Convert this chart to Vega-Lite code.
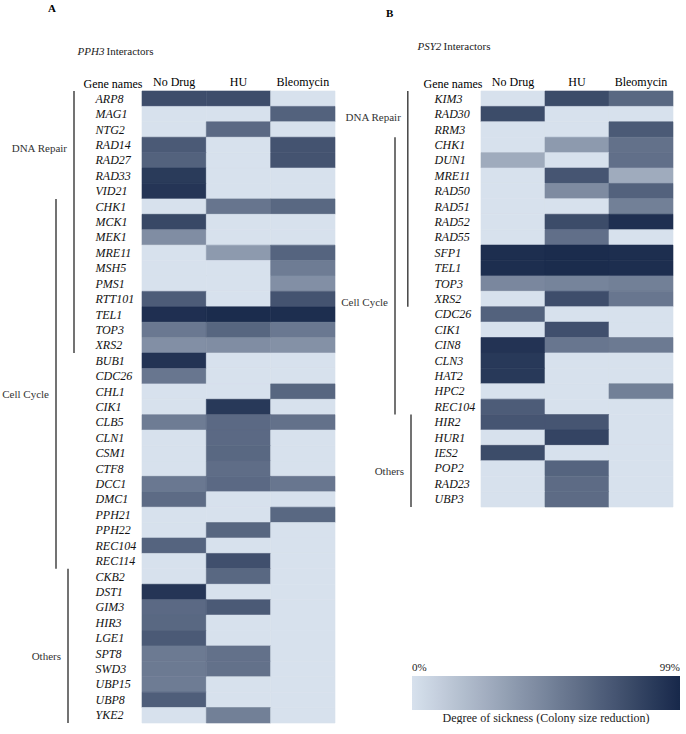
{
  "$schema": "https://vega.github.io/schema/vega-lite/v6.json",
  "padding": {"top": 3, "left": 0, "right": 0, "bottom": 0},
  "background": "white",
  "config": {
    "view": {"stroke": null},
    "font": "Liberation Serif",
    "axis": {"domain": false, "ticks": false, "grid": false, "labelFont": "Liberation Serif", "titleFont": "Liberation Serif"},
    "title": {"font": "Liberation Serif"}
  },
  "datasets": {
    "ca": [
      {"cat": "DNA Repair", "start": "ARP8", "end": "XRS2", "at": "RAD14"},
      {"cat": "Cell Cycle", "start": "CHK1", "end": "REC114", "at": "CHL1"},
      {"cat": "Others", "start": "CKB2", "end": "YKE2", "at": "SPT8"}
    ],
    "cb": [
      {"cat": "DNA Repair", "start": "KIM3", "end": "XRS2", "at": "RAD30"},
      {"cat": "Cell Cycle", "start": "CHK1", "end": "REC104", "at": "XRS2"},
      {"cat": "Others", "start": "HIR2", "end": "UBP3", "at": "POP2"}
    ],
    "a": [
      {"gene": "ARP8", "drug": "No Drug", "v": 79}, {"gene": "ARP8", "drug": "HU", "v": 79}, {"gene": "ARP8", "drug": "Bleomycin", "v": 0},
      {"gene": "MAG1", "drug": "No Drug", "v": 0}, {"gene": "MAG1", "drug": "HU", "v": 0}, {"gene": "MAG1", "drug": "Bleomycin", "v": 68},
      {"gene": "NTG2", "drug": "No Drug", "v": 0}, {"gene": "NTG2", "drug": "HU", "v": 64}, {"gene": "NTG2", "drug": "Bleomycin", "v": 0},
      {"gene": "RAD14", "drug": "No Drug", "v": 72}, {"gene": "RAD14", "drug": "HU", "v": 0}, {"gene": "RAD14", "drug": "Bleomycin", "v": 76},
      {"gene": "RAD27", "drug": "No Drug", "v": 68}, {"gene": "RAD27", "drug": "HU", "v": 0}, {"gene": "RAD27", "drug": "Bleomycin", "v": 76},
      {"gene": "RAD33", "drug": "No Drug", "v": 89}, {"gene": "RAD33", "drug": "HU", "v": 0}, {"gene": "RAD33", "drug": "Bleomycin", "v": 0},
      {"gene": "VID21", "drug": "No Drug", "v": 92}, {"gene": "VID21", "drug": "HU", "v": 0}, {"gene": "VID21", "drug": "Bleomycin", "v": 0},
      {"gene": "CHK1", "drug": "No Drug", "v": 0}, {"gene": "CHK1", "drug": "HU", "v": 58}, {"gene": "CHK1", "drug": "Bleomycin", "v": 65},
      {"gene": "MCK1", "drug": "No Drug", "v": 82}, {"gene": "MCK1", "drug": "HU", "v": 0}, {"gene": "MCK1", "drug": "Bleomycin", "v": 0},
      {"gene": "MEK1", "drug": "No Drug", "v": 45}, {"gene": "MEK1", "drug": "HU", "v": 0}, {"gene": "MEK1", "drug": "Bleomycin", "v": 0},
      {"gene": "MRE11", "drug": "No Drug", "v": 0}, {"gene": "MRE11", "drug": "HU", "v": 38}, {"gene": "MRE11", "drug": "Bleomycin", "v": 67},
      {"gene": "MSH5", "drug": "No Drug", "v": 0}, {"gene": "MSH5", "drug": "HU", "v": 0}, {"gene": "MSH5", "drug": "Bleomycin", "v": 54},
      {"gene": "PMS1", "drug": "No Drug", "v": 0}, {"gene": "PMS1", "drug": "HU", "v": 0}, {"gene": "PMS1", "drug": "Bleomycin", "v": 44},
      {"gene": "RTT101", "drug": "No Drug", "v": 71}, {"gene": "RTT101", "drug": "HU", "v": 0}, {"gene": "RTT101", "drug": "Bleomycin", "v": 76},
      {"gene": "TEL1", "drug": "No Drug", "v": 95}, {"gene": "TEL1", "drug": "HU", "v": 97}, {"gene": "TEL1", "drug": "Bleomycin", "v": 96},
      {"gene": "TOP3", "drug": "No Drug", "v": 56}, {"gene": "TOP3", "drug": "HU", "v": 66}, {"gene": "TOP3", "drug": "Bleomycin", "v": 56},
      {"gene": "XRS2", "drug": "No Drug", "v": 44}, {"gene": "XRS2", "drug": "HU", "v": 45}, {"gene": "XRS2", "drug": "Bleomycin", "v": 43},
      {"gene": "BUB1", "drug": "No Drug", "v": 93}, {"gene": "BUB1", "drug": "HU", "v": 0}, {"gene": "BUB1", "drug": "Bleomycin", "v": 0},
      {"gene": "CDC26", "drug": "No Drug", "v": 57}, {"gene": "CDC26", "drug": "HU", "v": 0}, {"gene": "CDC26", "drug": "Bleomycin", "v": 0},
      {"gene": "CHL1", "drug": "No Drug", "v": 0}, {"gene": "CHL1", "drug": "HU", "v": 0}, {"gene": "CHL1", "drug": "Bleomycin", "v": 66},
      {"gene": "CIK1", "drug": "No Drug", "v": 0}, {"gene": "CIK1", "drug": "HU", "v": 90}, {"gene": "CIK1", "drug": "Bleomycin", "v": 0},
      {"gene": "CLB5", "drug": "No Drug", "v": 54}, {"gene": "CLB5", "drug": "HU", "v": 64}, {"gene": "CLB5", "drug": "Bleomycin", "v": 60},
      {"gene": "CLN1", "drug": "No Drug", "v": 0}, {"gene": "CLN1", "drug": "HU", "v": 64}, {"gene": "CLN1", "drug": "Bleomycin", "v": 0},
      {"gene": "CSM1", "drug": "No Drug", "v": 0}, {"gene": "CSM1", "drug": "HU", "v": 65}, {"gene": "CSM1", "drug": "Bleomycin", "v": 0},
      {"gene": "CTF8", "drug": "No Drug", "v": 0}, {"gene": "CTF8", "drug": "HU", "v": 62}, {"gene": "CTF8", "drug": "Bleomycin", "v": 0},
      {"gene": "DCC1", "drug": "No Drug", "v": 56}, {"gene": "DCC1", "drug": "HU", "v": 64}, {"gene": "DCC1", "drug": "Bleomycin", "v": 57},
      {"gene": "DMC1", "drug": "No Drug", "v": 63}, {"gene": "DMC1", "drug": "HU", "v": 0}, {"gene": "DMC1", "drug": "Bleomycin", "v": 0},
      {"gene": "PPH21", "drug": "No Drug", "v": 0}, {"gene": "PPH21", "drug": "HU", "v": 0}, {"gene": "PPH21", "drug": "Bleomycin", "v": 65},
      {"gene": "PPH22", "drug": "No Drug", "v": 0}, {"gene": "PPH22", "drug": "HU", "v": 66}, {"gene": "PPH22", "drug": "Bleomycin", "v": 0},
      {"gene": "REC104", "drug": "No Drug", "v": 67}, {"gene": "REC104", "drug": "HU", "v": 0}, {"gene": "REC104", "drug": "Bleomycin", "v": 0},
      {"gene": "REC114", "drug": "No Drug", "v": 0}, {"gene": "REC114", "drug": "HU", "v": 78}, {"gene": "REC114", "drug": "Bleomycin", "v": 0},
      {"gene": "CKB2", "drug": "No Drug", "v": 0}, {"gene": "CKB2", "drug": "HU", "v": 65}, {"gene": "CKB2", "drug": "Bleomycin", "v": 0},
      {"gene": "DST1", "drug": "No Drug", "v": 92}, {"gene": "DST1", "drug": "HU", "v": 0}, {"gene": "DST1", "drug": "Bleomycin", "v": 0},
      {"gene": "GIM3", "drug": "No Drug", "v": 64}, {"gene": "GIM3", "drug": "HU", "v": 72}, {"gene": "GIM3", "drug": "Bleomycin", "v": 0},
      {"gene": "HIR3", "drug": "No Drug", "v": 65}, {"gene": "HIR3", "drug": "HU", "v": 0}, {"gene": "HIR3", "drug": "Bleomycin", "v": 0},
      {"gene": "LGE1", "drug": "No Drug", "v": 72}, {"gene": "LGE1", "drug": "HU", "v": 0}, {"gene": "LGE1", "drug": "Bleomycin", "v": 0},
      {"gene": "SPT8", "drug": "No Drug", "v": 55}, {"gene": "SPT8", "drug": "HU", "v": 60}, {"gene": "SPT8", "drug": "Bleomycin", "v": 0},
      {"gene": "SWD3", "drug": "No Drug", "v": 55}, {"gene": "SWD3", "drug": "HU", "v": 60}, {"gene": "SWD3", "drug": "Bleomycin", "v": 0},
      {"gene": "UBP15", "drug": "No Drug", "v": 54}, {"gene": "UBP15", "drug": "HU", "v": 0}, {"gene": "UBP15", "drug": "Bleomycin", "v": 0},
      {"gene": "UBP8", "drug": "No Drug", "v": 70}, {"gene": "UBP8", "drug": "HU", "v": 0}, {"gene": "UBP8", "drug": "Bleomycin", "v": 0},
      {"gene": "YKE2", "drug": "No Drug", "v": 0}, {"gene": "YKE2", "drug": "HU", "v": 52}, {"gene": "YKE2", "drug": "Bleomycin", "v": 0}
    ],
    "b": [
      {"gene": "KIM3", "drug": "No Drug", "v": 0}, {"gene": "KIM3", "drug": "HU", "v": 80}, {"gene": "KIM3", "drug": "Bleomycin", "v": 65},
      {"gene": "RAD30", "drug": "No Drug", "v": 80}, {"gene": "RAD30", "drug": "HU", "v": 0}, {"gene": "RAD30", "drug": "Bleomycin", "v": 0},
      {"gene": "RRM3", "drug": "No Drug", "v": 0}, {"gene": "RRM3", "drug": "HU", "v": 0}, {"gene": "RRM3", "drug": "Bleomycin", "v": 72},
      {"gene": "CHK1", "drug": "No Drug", "v": 0}, {"gene": "CHK1", "drug": "HU", "v": 38}, {"gene": "CHK1", "drug": "Bleomycin", "v": 60},
      {"gene": "DUN1", "drug": "No Drug", "v": 29}, {"gene": "DUN1", "drug": "HU", "v": 0}, {"gene": "DUN1", "drug": "Bleomycin", "v": 61},
      {"gene": "MRE11", "drug": "No Drug", "v": 0}, {"gene": "MRE11", "drug": "HU", "v": 75}, {"gene": "MRE11", "drug": "Bleomycin", "v": 29},
      {"gene": "RAD50", "drug": "No Drug", "v": 0}, {"gene": "RAD50", "drug": "HU", "v": 46}, {"gene": "RAD50", "drug": "Bleomycin", "v": 68},
      {"gene": "RAD51", "drug": "No Drug", "v": 0}, {"gene": "RAD51", "drug": "HU", "v": 0}, {"gene": "RAD51", "drug": "Bleomycin", "v": 52},
      {"gene": "RAD52", "drug": "No Drug", "v": 0}, {"gene": "RAD52", "drug": "HU", "v": 80}, {"gene": "RAD52", "drug": "Bleomycin", "v": 95},
      {"gene": "RAD55", "drug": "No Drug", "v": 0}, {"gene": "RAD55", "drug": "HU", "v": 61}, {"gene": "RAD55", "drug": "Bleomycin", "v": 0},
      {"gene": "SFP1", "drug": "No Drug", "v": 96}, {"gene": "SFP1", "drug": "HU", "v": 97}, {"gene": "SFP1", "drug": "Bleomycin", "v": 96},
      {"gene": "TEL1", "drug": "No Drug", "v": 96}, {"gene": "TEL1", "drug": "HU", "v": 97}, {"gene": "TEL1", "drug": "Bleomycin", "v": 96},
      {"gene": "TOP3", "drug": "No Drug", "v": 48}, {"gene": "TOP3", "drug": "HU", "v": 50}, {"gene": "TOP3", "drug": "Bleomycin", "v": 52},
      {"gene": "XRS2", "drug": "No Drug", "v": 0}, {"gene": "XRS2", "drug": "HU", "v": 79}, {"gene": "XRS2", "drug": "Bleomycin", "v": 57},
      {"gene": "CDC26", "drug": "No Drug", "v": 68}, {"gene": "CDC26", "drug": "HU", "v": 0}, {"gene": "CDC26", "drug": "Bleomycin", "v": 0},
      {"gene": "CIK1", "drug": "No Drug", "v": 0}, {"gene": "CIK1", "drug": "HU", "v": 78}, {"gene": "CIK1", "drug": "Bleomycin", "v": 0},
      {"gene": "CIN8", "drug": "No Drug", "v": 93}, {"gene": "CIN8", "drug": "HU", "v": 57}, {"gene": "CIN8", "drug": "Bleomycin", "v": 55},
      {"gene": "CLN3", "drug": "No Drug", "v": 90}, {"gene": "CLN3", "drug": "HU", "v": 0}, {"gene": "CLN3", "drug": "Bleomycin", "v": 0},
      {"gene": "HAT2", "drug": "No Drug", "v": 90}, {"gene": "HAT2", "drug": "HU", "v": 0}, {"gene": "HAT2", "drug": "Bleomycin", "v": 0},
      {"gene": "HPC2", "drug": "No Drug", "v": 0}, {"gene": "HPC2", "drug": "HU", "v": 0}, {"gene": "HPC2", "drug": "Bleomycin", "v": 52},
      {"gene": "REC104", "drug": "No Drug", "v": 71}, {"gene": "REC104", "drug": "HU", "v": 0}, {"gene": "REC104", "drug": "Bleomycin", "v": 0},
      {"gene": "HIR2", "drug": "No Drug", "v": 75}, {"gene": "HIR2", "drug": "HU", "v": 75}, {"gene": "HIR2", "drug": "Bleomycin", "v": 0},
      {"gene": "HUR1", "drug": "No Drug", "v": 0}, {"gene": "HUR1", "drug": "HU", "v": 84}, {"gene": "HUR1", "drug": "Bleomycin", "v": 0},
      {"gene": "IES2", "drug": "No Drug", "v": 80}, {"gene": "IES2", "drug": "HU", "v": 0}, {"gene": "IES2", "drug": "Bleomycin", "v": 0},
      {"gene": "POP2", "drug": "No Drug", "v": 0}, {"gene": "POP2", "drug": "HU", "v": 67}, {"gene": "POP2", "drug": "Bleomycin", "v": 0},
      {"gene": "RAD23", "drug": "No Drug", "v": 0}, {"gene": "RAD23", "drug": "HU", "v": 63}, {"gene": "RAD23", "drug": "Bleomycin", "v": 0},
      {"gene": "UBP3", "drug": "No Drug", "v": 0}, {"gene": "UBP3", "drug": "HU", "v": 63}, {"gene": "UBP3", "drug": "Bleomycin", "v": 0}
    ]
  },
  "hconcat": [
    {
      "hconcat": [
        {
          "width": 80,
          "height": 632,
          "title": {"text": "A", "anchor": "start", "frame": "group", "dx": 48, "fontSize": 11, "fontWeight": "bold", "offset": 31},
          "data": {"name": "ca"},
          "encoding": {
            "x": {"field": "cat", "type": "nominal", "scale": {"type": "point", "domain": ["Cell Cycle", " ", "Others", "DNA Repair"], "range": [56, 74], "padding": 0},
              "axis": {"orient": "top", "labels": false, "title": "PPH3", "titleFontStyle": "italic", "titleFontWeight": "normal", "titleFontSize": 11, "titleColor": "#222", "titleX": 77, "titleY": -37, "titleAlign": "left", "titleBaseline": "alphabetic", "titleAngle": 0}}
          },
          "layer": [
            {
              "mark": {"type": "rule", "color": "#444", "strokeWidth": 1.5},
              "encoding": {
                "y": {"field": "start", "type": "nominal", "bandPosition": 0, "scale": {"domain": ["ARP8","MAG1","NTG2","RAD14","RAD27","RAD33","VID21","CHK1","MCK1","MEK1","MRE11","MSH5","PMS1","RTT101","TEL1","TOP3","XRS2","BUB1","CDC26","CHL1","CIK1","CLB5","CLN1","CSM1","CTF8","DCC1","DMC1","PPH21","PPH22","REC104","REC114","CKB2","DST1","GIM3","HIR3","LGE1","SPT8","SWD3","UBP15","UBP8","YKE2"], "paddingInner": 0, "paddingOuter": 0}, "axis": null},
                "y2": {"field": "end", "bandPosition": 1}
              }
            },
            {
              "mark": {"type": "text", "fontSize": 11, "color": "#333", "font": "Liberation Serif", "align": "right", "dx": -7},
              "encoding": {
                "y": {"field": "at", "type": "nominal", "bandPosition": 0.75},
                "text": {"field": "cat"}
              }
            }
          ]
        },
        {
          "width": 193,
          "height": 632,
          "data": {"name": "a"},
          "mark": {"type": "rect", "strokeWidth": 0.6},
          "encoding": {
            "x": {"field": "drug", "type": "nominal", "scale": {"domain": ["No Drug", "HU", "Bleomycin"], "paddingInner": 0, "paddingOuter": 0},
              "axis": {"orient": "top", "labelAngle": 0, "labelFontSize": 12, "labelColor": "#000", "labelPadding": 3, "title": "Interactors", "titleFontWeight": "normal", "titleFontSize": 11, "titleColor": "#222", "titleX": -36, "titleY": -37, "titleAlign": "left", "titleBaseline": "alphabetic"}},
            "y": {"field": "gene", "type": "nominal", "scale": {"domain": ["ARP8","MAG1","NTG2","RAD14","RAD27","RAD33","VID21","CHK1","MCK1","MEK1","MRE11","MSH5","PMS1","RTT101","TEL1","TOP3","XRS2","BUB1","CDC26","CHL1","CIK1","CLB5","CLN1","CSM1","CTF8","DCC1","DMC1","PPH21","PPH22","REC104","REC114","CKB2","DST1","GIM3","HIR3","LGE1","SPT8","SWD3","UBP15","UBP8","YKE2"], "paddingInner": 0, "paddingOuter": 0},
              "axis": {"labelAlign": "left", "labelPadding": 47, "labelFontSize": 12, "labelFontStyle": "italic", "labelColor": "#111", "title": "Gene names", "titleAngle": 0, "titleAlign": "left", "titleX": -59, "titleY": -4, "titleBaseline": "alphabetic", "titleFontSize": 12, "titleFontWeight": "normal", "titleColor": "#000"}},
            "stroke": {"field": "v", "type": "quantitative", "scale": {"domain": [0, 99], "range": ["#d7e1ed", "#17284a"], "interpolate": "rgb"}, "legend": null},
            "color": {"field": "v", "type": "quantitative", "scale": {"domain": [0, 99], "range": ["#d7e1ed", "#17284a"], "interpolate": "rgb"},
              "legend": {"type": "gradient", "orient": "none", "legendX": 412, "legendY": 585, "direction": "horizontal", "gradientLength": 268, "gradientThickness": 34, "gradientStrokeWidth": 0, "values": [0, 99], "labelExpr": "datum.value + '%'", "labelOffset": -48, "labelFont": "Liberation Serif", "labelFontSize": 11, "labelColor": "#222", "title": "Degree of sickness (Colony size reduction)", "titleLimit": 400, "titleOrient": "bottom", "titleAnchor": "middle", "titleFont": "Liberation Serif", "titleFontSize": 12, "titleFontWeight": "normal", "titleColor": "#222", "titlePadding": 3}}
          }
        }
      ],
      "spacing": 62,
      "bounds": "flush",
      "resolve": {"scale": {"stroke": "independent"}, "legend": {"stroke": "independent"}}
    },
    {
      "hconcat": [
        {
          "width": 76,
          "height": 416,
          "title": {"text": "B", "anchor": "start", "frame": "group", "dx": 45, "fontSize": 11, "fontWeight": "bold", "offset": 21},
          "data": {"name": "cb"},
          "encoding": {
            "x": {"field": "cat", "type": "nominal", "scale": {"type": "point", "domain": ["Cell Cycle", " ", "  ", "   ", "DNA Repair", "Others"], "range": [54, 70], "padding": 0},
              "axis": {"orient": "top", "labels": false, "title": "PSY2", "titleFontStyle": "italic", "titleFontWeight": "normal", "titleFontSize": 11, "titleColor": "#222", "titleX": 76, "titleY": -42, "titleAlign": "left", "titleBaseline": "alphabetic", "titleAngle": 0}}
          },
          "layer": [
            {
              "mark": {"type": "rule", "color": "#444", "strokeWidth": 1.5},
              "encoding": {
                "y": {"field": "start", "type": "nominal", "bandPosition": 0, "scale": {"domain": ["KIM3","RAD30","RRM3","CHK1","DUN1","MRE11","RAD50","RAD51","RAD52","RAD55","SFP1","TEL1","TOP3","XRS2","CDC26","CIK1","CIN8","CLN3","HAT2","HPC2","REC104","HIR2","HUR1","IES2","POP2","RAD23","UBP3"], "paddingInner": 0, "paddingOuter": 0}, "axis": null},
                "y2": {"field": "end", "bandPosition": 1}
              }
            },
            {
              "mark": {"type": "text", "fontSize": 11, "color": "#333", "font": "Liberation Serif", "align": "right", "dx": -7},
              "encoding": {
                "y": {"field": "at", "type": "nominal", "bandPosition": 0.75},
                "text": {"field": "cat"}
              }
            }
          ]
        },
        {
          "width": 192,
          "height": 416,
          "data": {"name": "b"},
          "mark": {"type": "rect", "strokeWidth": 0.6},
          "encoding": {
            "x": {"field": "drug", "type": "nominal", "scale": {"domain": ["No Drug", "HU", "Bleomycin"], "paddingInner": 0, "paddingOuter": 0},
              "axis": {"orient": "top", "labelAngle": 0, "labelFontSize": 12, "labelColor": "#000", "labelPadding": 3, "title": "Interactors", "titleFontWeight": "normal", "titleFontSize": 11, "titleColor": "#222", "titleX": -38, "titleY": -42, "titleAlign": "left", "titleBaseline": "alphabetic"}},
            "y": {"field": "gene", "type": "nominal", "scale": {"domain": ["KIM3","RAD30","RRM3","CHK1","DUN1","MRE11","RAD50","RAD51","RAD52","RAD55","SFP1","TEL1","TOP3","XRS2","CDC26","CIK1","CIN8","CLN3","HAT2","HPC2","REC104","HIR2","HUR1","IES2","POP2","RAD23","UBP3"], "paddingInner": 0, "paddingOuter": 0},
              "axis": {"labelAlign": "left", "labelPadding": 47, "labelFontSize": 12, "labelFontStyle": "italic", "labelColor": "#111", "title": "Gene names", "titleAngle": 0, "titleAlign": "left", "titleX": -58, "titleY": -4, "titleBaseline": "alphabetic", "titleFontSize": 12, "titleFontWeight": "normal", "titleColor": "#000"}},
            "stroke": {"field": "v", "type": "quantitative", "scale": {"domain": [0, 99], "range": ["#d7e1ed", "#17284a"], "interpolate": "rgb"}, "legend": null},
            "color": {"field": "v", "type": "quantitative", "scale": {"domain": [0, 99], "range": ["#d7e1ed", "#17284a"], "interpolate": "rgb"}, "legend": null}
          }
        }
      ],
      "spacing": 64,
      "bounds": "flush",
      "resolve": {"scale": {"stroke": "independent"}, "legend": {"stroke": "independent"}}
    }
  ],
  "spacing": 5,
  "resolve": {"scale": {"color": "shared", "stroke": "independent"}, "legend": {"stroke": "independent"}}
}
